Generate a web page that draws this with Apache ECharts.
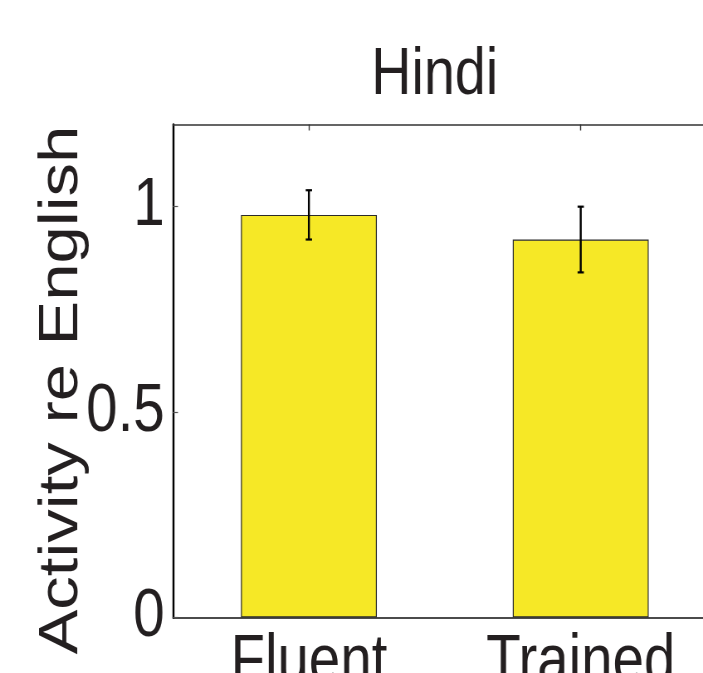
<!DOCTYPE html>
<html>
<head>
<meta charset="utf-8">
<script src="https://cdn.jsdelivr.net/npm/echarts@6/dist/echarts.min.js"></script>
<style>
  html, body { margin: 0; padding: 0; background: #fff; overflow: hidden; }
  #wrap { width: 703px; height: 673px; overflow: hidden; position: relative; }
  /* the figure is laid out wide and squeezed horizontally, giving the narrow glyph shape */
  #chart { position: absolute; left: 0; top: 0; width: 847px; height: 673px;
           transform: scaleX(0.83); transform-origin: 0 0; }
</style>
</head>
<body>
<div id="wrap"><div id="chart"></div></div>
<script>
// Activity relative to English, Hindi stimuli
const categories = ['Fluent', 'Trained'];
const means = [0.98, 0.92];
const errLow = [0.92, 0.84];
const errHigh = [1.04, 1.00];
const yTicks = [0, 0.5, 1];
const yMin = 0;
const yMax = 1.2;

const FONT = 'Liberation Sans, Arial, Helvetica, sans-serif';
const INK = '#231f20';

const chart = echarts.init(document.getElementById('chart'), null, { renderer: 'canvas' });

const errorData = categories.map((c, i) => [i, errLow[i], errHigh[i]]);

chart.setOption({
  animation: false,
  backgroundColor: '#fff',
  grid: {
    left: 208.4, top: 124.5, width: 655, height: 493,
    outerBoundsMode: 'none'
  },
  graphic: [
    {
      type: 'text', x: 523.7, y: 75.5,
      style: { text: 'Hindi', font: '67px ' + FONT, fill: INK,
               align: 'center', verticalAlign: 'middle' }
    },
    {
      type: 'text', x: 75, y: 390, rotation: Math.PI / 2,
      style: { text: 'Activity re English', font: '67px ' + FONT, fill: INK,
               align: 'center', verticalAlign: 'middle' }
    }
  ],
  xAxis: [
    {
      type: 'category', data: categories, position: 'bottom',
      axisLine: { onZero: false, lineStyle: { color: '#111', width: 1.6 } },
      axisTick: { show: false },
      axisLabel: { fontSize: 68, fontFamily: FONT, color: INK, margin: 12 }
    },
    {
      type: 'category', data: categories, position: 'top',
      axisLine: { onZero: false, lineStyle: { color: '#333', width: 1.6 } },
      axisTick: { show: true, inside: true, length: 6, alignWithLabel: true,
                  lineStyle: { color: '#333', width: 1.4 } },
      axisLabel: { show: false }
    }
  ],
  yAxis: [
    {
      type: 'value', min: yMin, max: yMax, interval: 0.5, position: 'left',
      axisLine: { show: true, onZero: false, lineStyle: { color: '#000', width: 2.4 } },
      axisTick: { show: true, inside: true, length: 6, customValues: yTicks,
                  lineStyle: { color: '#555', width: 1.2 } },
      axisLabel: { customValues: yTicks, fontSize: 68, fontFamily: FONT, color: INK,
                   margin: 10, formatter: v => String(v) },
      splitLine: { show: false }
    },
    {
      type: 'value', min: yMin, max: yMax, interval: 0.5, position: 'right',
      axisLine: { show: true, onZero: false, lineStyle: { color: '#000', width: 2 } },
      axisTick: { show: false }, axisLabel: { show: false }, splitLine: { show: false }
    }
  ],
  series: [
    {
      type: 'bar', data: means, barWidth: '50%',
      xAxisIndex: 0, yAxisIndex: 0,
      itemStyle: { color: '#f6e826', borderColor: '#2a2a2a', borderWidth: 1.2 },
      z: 2
    },
    {
      type: 'custom', data: errorData, xAxisIndex: 0, yAxisIndex: 0, z: 5,
      renderItem: function (params, api) {
        const lo = api.coord([api.value(0), api.value(1)]);
        const hi = api.coord([api.value(0), api.value(2)]);
        const half = 3.8;
        const st = { stroke: '#000', lineWidth: 2.4 };
        const cap = { stroke: '#000', lineWidth: 2.2 };
        return {
          type: 'group',
          children: [
            { type: 'line', shape: { x1: lo[0], y1: lo[1], x2: hi[0], y2: hi[1] }, style: st },
            { type: 'line', shape: { x1: hi[0] - half, y1: hi[1], x2: hi[0] + half, y2: hi[1] }, style: cap },
            { type: 'line', shape: { x1: lo[0] - half, y1: lo[1], x2: lo[0] + half, y2: lo[1] }, style: cap }
          ]
        };
      }
    }
  ]
});
</script>
</body>
</html>
